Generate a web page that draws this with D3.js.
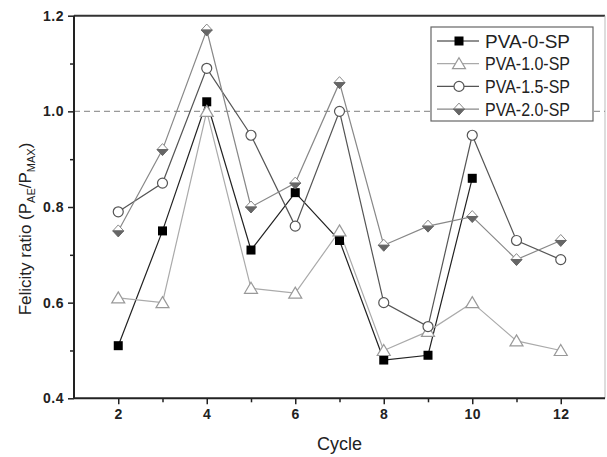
<!DOCTYPE html>
<html><head><meta charset="utf-8">
<script src="https://cdn.jsdelivr.net/npm/d3@7"></script>
<style>body{margin:0;background:#fff}svg{display:block}text{font-family:"Liberation Sans",Arial,sans-serif}</style>
</head><body><svg id="c" width="607" height="457"></svg>
<script>
const cycles = [2,3,4,5,6,7,8,9,10,11,12];
const pva0  = [0.51,0.75,1.02,0.71,0.83,0.73,0.48,0.49,0.86];
const pva10 = [0.61,0.60,1.00,0.63,0.62,0.75,0.50,0.54,0.60,0.52,0.50];
const pva15 = [0.79,0.85,1.09,0.95,0.76,1.00,0.60,0.55,0.95,0.73,0.69];
const pva20 = [0.75,0.92,1.17,0.80,0.85,1.06,0.72,0.76,0.78,0.69,0.73];
const seriesNames = ["PVA-0-SP","PVA-1.0-SP","PVA-1.5-SP","PVA-2.0-SP"];
const xTicks = [2,4,6,8,10,12];
const yTicks = [0.4,0.6,0.8,1.0,1.2];

const svg = d3.select("#c");
const L=74, R=605, T=15.7, B=398.3;
const x = d3.scaleLinear().domain([1,13]).range([L,R]);
const y = d3.scaleLinear().domain([0.4,1.2]).range([B,T]);

const series = [
  {name:seriesNames[0], vals:pva0, line:"#222", marker:"square"},
  {name:seriesNames[1], vals:pva10, line:"#aaa", marker:"triangle"},
  {name:seriesNames[2], vals:pva15, line:"#555", marker:"circle"},
  {name:seriesNames[3], vals:pva20, line:"#888", marker:"diamond"}
];

// frame
svg.append("line").attr("x1",L).attr("x2",R).attr("y1",T).attr("y2",T).attr("stroke","#333").attr("stroke-width",2);
svg.append("line").attr("x1",R).attr("x2",R).attr("y1",T).attr("y2",B).attr("stroke","#bbb").attr("stroke-width",1);

// dashed 1.0 line
svg.append("line").attr("x1",L).attr("x2",R).attr("y1",y(1.0)).attr("y2",y(1.0))
  .attr("stroke","#999").attr("stroke-width",1.3).attr("stroke-dasharray","6,4");

// axes
const xAxis = d3.axisBottom(x).tickValues(xTicks).tickFormat(d3.format("d")).tickSize(6).tickPadding(5);
const xMinor = d3.axisBottom(x).tickValues([3,5,7,9,11]).tickFormat("").tickSize(4);
const yAxis = d3.axisLeft(y).tickValues(yTicks).tickFormat(d3.format(".1f")).tickSize(6).tickPadding(4);
const yMinor = d3.axisLeft(y).tickValues([0.5,0.7,0.9,1.1]).tickFormat("").tickSize(4);

function styleAxis(g){
  g.select(".domain").attr("stroke","#222").attr("stroke-width",2);
  g.selectAll(".tick line").attr("stroke","#222").attr("stroke-width",1.5);
  g.selectAll("text").attr("fill","#222").style("font-size","14px").style("font-weight","bold").style("letter-spacing","0.5px");
}
svg.append("g").attr("transform",`translate(0,${B})`).call(xMinor).call(g=>{g.select(".domain").remove();g.selectAll("line").attr("stroke","#222").attr("stroke-width",1.5);});
svg.append("g").attr("transform",`translate(${L},0)`).call(yMinor).call(g=>{g.select(".domain").remove();g.selectAll("line").attr("stroke","#222").attr("stroke-width",1.5);});
const gx = svg.append("g").attr("transform",`translate(0,${B})`).call(xAxis).call(styleAxis);
gx.select(".domain").attr("d",`M${L},0H${R}`);
const gy = svg.append("g").attr("transform",`translate(${L},0)`).call(yAxis).call(styleAxis);
gy.select(".domain").attr("d",`M0,${B}V${T}`);

// titles
svg.append("text").attr("x",(L+R)/2).attr("y",450).attr("text-anchor","middle")
  .style("font-size","18px").attr("fill","#222").text("Cycle");
const yt = svg.append("text").attr("transform",`translate(31,229) rotate(-90)`)
  .attr("text-anchor","middle").style("font-size","17px").attr("fill","#222");
yt.append("tspan").text("Felicity ratio (P");
yt.append("tspan").attr("dy",4).style("font-size","11px").text("AE");
yt.append("tspan").attr("dy",-4).text("/P");
yt.append("tspan").attr("dy",4).style("font-size","11px").text("MAX");
yt.append("tspan").attr("dy",-4).text(")");

function drawMarker(g, type, cx, cy){
  if(type==="square"){
    g.append("rect").attr("x",cx-4.5).attr("y",cy-4.5).attr("width",9).attr("height",9).attr("fill","#000");
  } else if(type==="triangle"){
    g.append("path").attr("d",`M${cx},${cy-6}L${cx+6.5},${cy+5}L${cx-6.5},${cy+5}Z`)
      .attr("fill","#fff").attr("stroke","#999").attr("stroke-width",1.2);
  } else if(type==="circle"){
    g.append("circle").attr("cx",cx).attr("cy",cy).attr("r",5).attr("fill","#fff").attr("stroke","#555").attr("stroke-width",1.2);
  } else {
    g.append("path").attr("d",`M${cx},${cy-6}L${cx+5.5},${cy}L${cx-5.5},${cy}Z`)
      .attr("fill","#fff").attr("stroke","#888").attr("stroke-width",1);
    g.append("path").attr("d",`M${cx-5.5},${cy}L${cx+5.5},${cy}L${cx},${cy+6}Z`)
      .attr("fill","#666").attr("stroke","#666").attr("stroke-width",1);
  }
}

const line = d3.line().x((d,i)=>x(cycles[i])).y(d=>y(d));
series.forEach(s=>{
  svg.append("path").datum(s.vals).attr("d",line).attr("fill","none").attr("stroke",s.line).attr("stroke-width",1.2);
});
series.forEach(s=>{
  const g = svg.append("g");
  s.vals.forEach((v,i)=>drawMarker(g,s.marker,x(cycles[i]),y(v)));
});

// legend
const lg = svg.append("g");
lg.append("rect").attr("x",431).attr("y",27).attr("width",162).attr("height",94)
  .attr("fill","#fff").attr("stroke","#666").attr("stroke-width",1.2);
series.forEach((s,i)=>{
  const cy = 41 + i*22.7;
  lg.append("line").attr("x1",437).attr("x2",479).attr("y1",cy).attr("y2",cy).attr("stroke",s.line).attr("stroke-width",1.2);
  drawMarker(lg,s.marker,459,cy);
  lg.append("text").attr("x",485).attr("y",cy+6.5).style("font-size","17.5px").attr("fill","#222")
    .attr("textLength",85).attr("lengthAdjust","spacingAndGlyphs").text(s.name);
});
</script></body></html>
